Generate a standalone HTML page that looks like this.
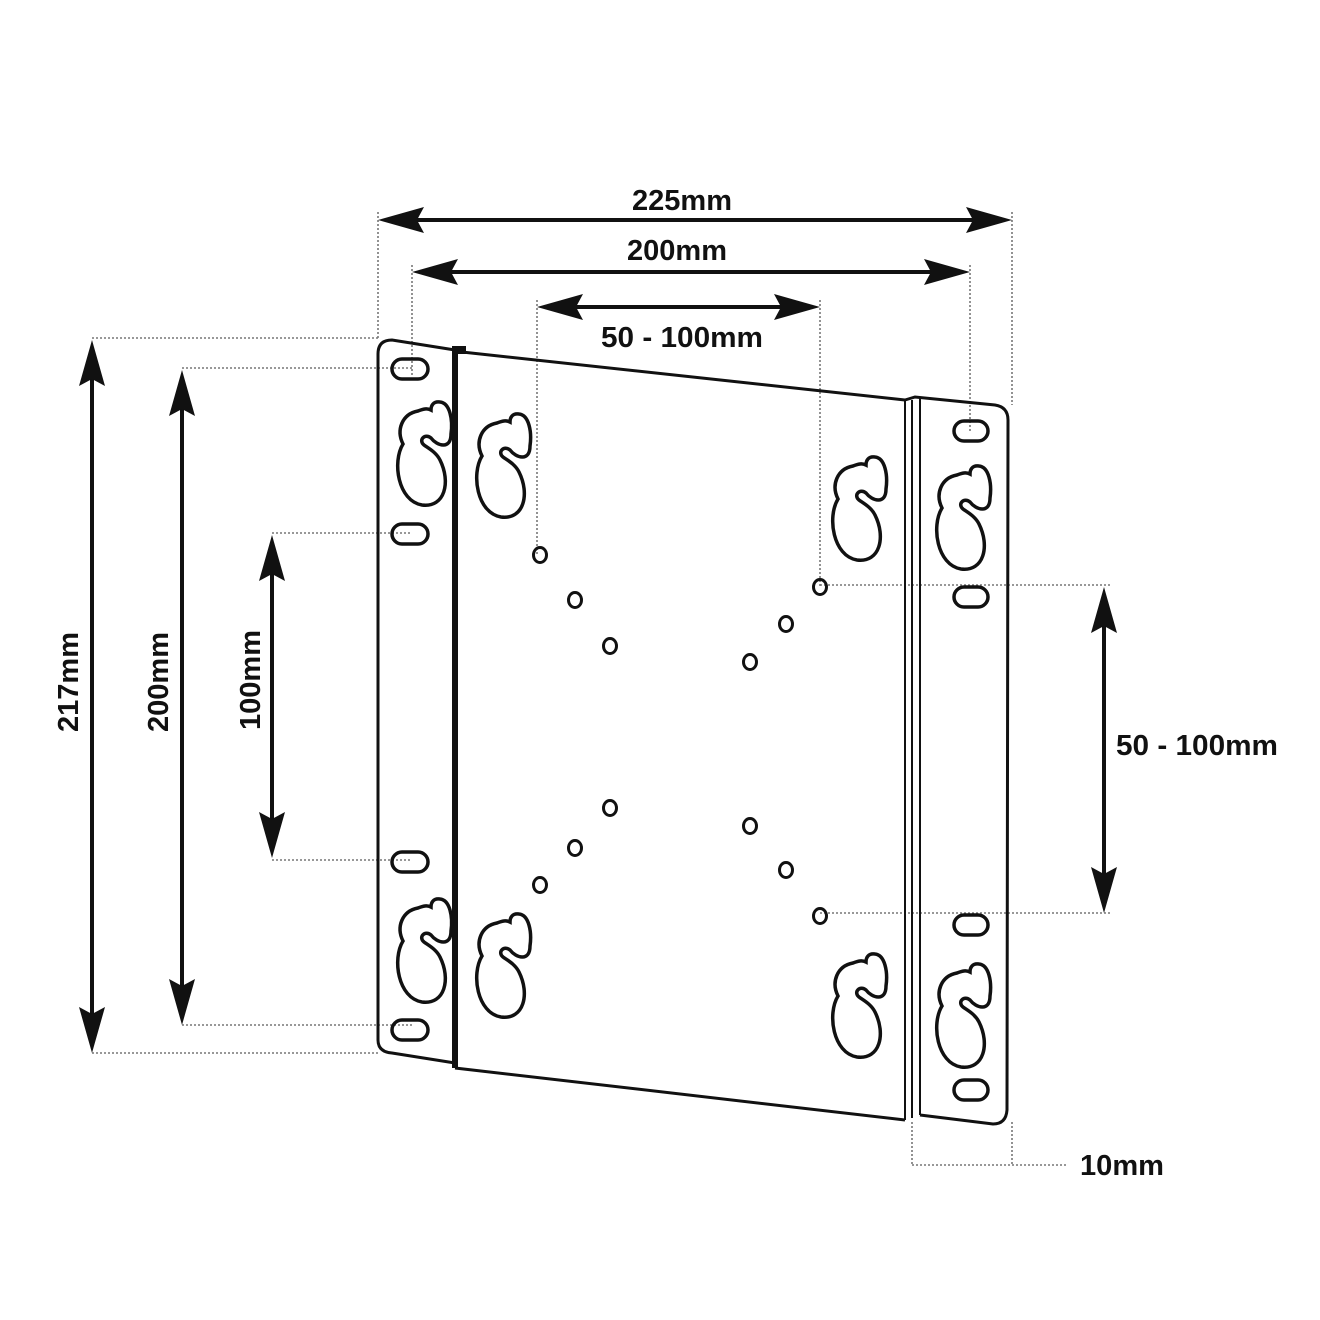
<!DOCTYPE html>
<html><head><style>
html,body{margin:0;padding:0;background:#fff;}
svg{display:block}
text{font-family:"Liberation Sans",sans-serif;font-weight:bold;fill:#111;}
</style></head><body>
<svg width="1320" height="1320" viewBox="0 0 1320 1320" xmlns="http://www.w3.org/2000/svg">
<defs>
<path id="kh" d="M20 13 C4 16 -2 32 5 46 C-6 64 0 103 24 107 C47 110 53 84 42 62 C38 54 30 50 26 47 C20 42 27 35 33 40 C39 48 53 52 53 36 C55 22 52 5 42 4 C35 3 33 8 33 12 C29 10 25 11 20 13 Z" fill="none" stroke="#111" stroke-width="3.5"/>
<path id="ah" d="M0 0 L-13 46 L0 39 L13 46 Z" fill="#111"/>
</defs>
<g stroke="#777" stroke-width="1.6" stroke-dasharray="2 2" fill="none">
<line x1="378" y1="212" x2="378" y2="340"/>
<line x1="1012" y1="212" x2="1012" y2="405"/>
<line x1="412" y1="265" x2="412" y2="375"/>
<line x1="970" y1="265" x2="970" y2="432"/>
<line x1="537" y1="300" x2="537" y2="555"/>
<line x1="820" y1="300" x2="820" y2="587"/>
<line x1="92" y1="338" x2="380" y2="338"/>
<line x1="182" y1="368" x2="412" y2="368"/>
<line x1="272" y1="533" x2="412" y2="533"/>
<line x1="272" y1="860" x2="412" y2="860"/>
<line x1="182" y1="1025" x2="412" y2="1025"/>
<line x1="92" y1="1053" x2="380" y2="1053"/>
<line x1="820" y1="585" x2="1110" y2="585"/>
<line x1="820" y1="913" x2="1110" y2="913"/>
<line x1="912" y1="1122" x2="912" y2="1165"/>
<line x1="1012" y1="1122" x2="1012" y2="1165"/>
<line x1="912" y1="1165" x2="1068" y2="1165"/>
</g>
<path d="M455 350 L392 340 Q378 340 378 354 L378 1040 Q378 1052 392 1053 L455 1063" fill="none" stroke="#111" stroke-width="3"/>
<line x1="455" y1="348" x2="455" y2="1068" stroke="#111" stroke-width="6"/>
<rect x="452" y="346" width="14" height="8" fill="#111"/>
<path d="M462 352 L905 400 M455 1068 L905 1120" fill="none" stroke="#111" stroke-width="3"/>
<g stroke="#111" stroke-width="2" fill="none">
<line x1="905" y1="400" x2="905" y2="1120"/>
<line x1="912" y1="400" x2="912" y2="1118"/>
<line x1="920" y1="398" x2="920" y2="1115"/>
</g>
<path d="M905 400 L915 397 L995 405 Q1008 407 1008 420 L1007 1110 Q1006 1124 993 1124 L920 1115" fill="none" stroke="#111" stroke-width="3"/>
<use href="#kh" x="398" y="398"/>
<use href="#kh" x="398" y="895"/>
<use href="#kh" x="477" y="410"/>
<use href="#kh" x="477" y="910"/>
<use href="#kh" x="833" y="453"/>
<use href="#kh" x="833" y="950"/>
<use href="#kh" x="937" y="462"/>
<use href="#kh" x="937" y="960"/>
<g fill="none" stroke="#111" stroke-width="3.5">
<rect x="392" y="359" width="36" height="20" rx="10"/>
<rect x="392" y="524" width="36" height="20" rx="10"/>
<rect x="392" y="852" width="36" height="20" rx="10"/>
<rect x="392" y="1020" width="36" height="20" rx="10"/>
<rect x="954" y="421" width="34" height="20" rx="10"/>
<rect x="954" y="587" width="34" height="20" rx="10"/>
<rect x="954" y="915" width="34" height="20" rx="10"/>
<rect x="954" y="1080" width="34" height="20" rx="10"/>
</g>
<g fill="none" stroke="#111" stroke-width="3">
<ellipse cx="540" cy="555" rx="6.5" ry="7.5"/><ellipse cx="575" cy="600" rx="6.5" ry="7.5"/><ellipse cx="610" cy="646" rx="6.5" ry="7.5"/>
<ellipse cx="820" cy="587" rx="6.5" ry="7.5"/><ellipse cx="786" cy="624" rx="6.5" ry="7.5"/><ellipse cx="750" cy="662" rx="6.5" ry="7.5"/>
<ellipse cx="610" cy="808" rx="6.5" ry="7.5"/><ellipse cx="575" cy="848" rx="6.5" ry="7.5"/><ellipse cx="540" cy="885" rx="6.5" ry="7.5"/>
<ellipse cx="750" cy="826" rx="6.5" ry="7.5"/><ellipse cx="786" cy="870" rx="6.5" ry="7.5"/><ellipse cx="820" cy="916" rx="6.5" ry="7.5"/>
</g>
<g stroke="#111" stroke-width="4">
<line x1="400" y1="220" x2="990" y2="220"/>
<line x1="434" y1="272" x2="948" y2="272"/>
<line x1="560" y1="307" x2="798" y2="307"/>
<line x1="92" y1="362" x2="92" y2="1030"/>
<line x1="182" y1="392" x2="182" y2="1002"/>
<line x1="272" y1="557" x2="272" y2="836"/>
<line x1="1104" y1="609" x2="1104" y2="890"/>
</g>
<use href="#ah" transform="translate(378,220) rotate(-90)"/>
<use href="#ah" transform="translate(1012,220) rotate(90)"/>
<use href="#ah" transform="translate(412,272) rotate(-90)"/>
<use href="#ah" transform="translate(970,272) rotate(90)"/>
<use href="#ah" transform="translate(537,307) rotate(-90)"/>
<use href="#ah" transform="translate(820,307) rotate(90)"/>
<use href="#ah" transform="translate(92,340)"/>
<use href="#ah" transform="translate(92,1053) rotate(180)"/>
<use href="#ah" transform="translate(182,370)"/>
<use href="#ah" transform="translate(182,1025) rotate(180)"/>
<use href="#ah" transform="translate(272,535)"/>
<use href="#ah" transform="translate(272,858) rotate(180)"/>
<use href="#ah" transform="translate(1104,587)"/>
<use href="#ah" transform="translate(1104,913) rotate(180)"/>
<g font-size="29">
<text x="682" y="210" text-anchor="middle" textLength="100" lengthAdjust="spacingAndGlyphs">225mm</text>
<text x="677" y="260" text-anchor="middle" textLength="100" lengthAdjust="spacingAndGlyphs">200mm</text>
<text x="682" y="347" text-anchor="middle" textLength="162" lengthAdjust="spacingAndGlyphs">50 - 100mm</text>
<text x="1197" y="755" text-anchor="middle" textLength="162" lengthAdjust="spacingAndGlyphs">50 - 100mm</text>
<text x="1122" y="1175" text-anchor="middle" textLength="84" lengthAdjust="spacingAndGlyphs">10mm</text>
<text transform="translate(78,682) rotate(-90)" text-anchor="middle" textLength="100" lengthAdjust="spacingAndGlyphs">217mm</text>
<text transform="translate(168,682) rotate(-90)" text-anchor="middle" textLength="100" lengthAdjust="spacingAndGlyphs">200mm</text>
<text transform="translate(260,680) rotate(-90)" text-anchor="middle" textLength="100" lengthAdjust="spacingAndGlyphs">100mm</text>
</g>
</svg>
</body></html>
